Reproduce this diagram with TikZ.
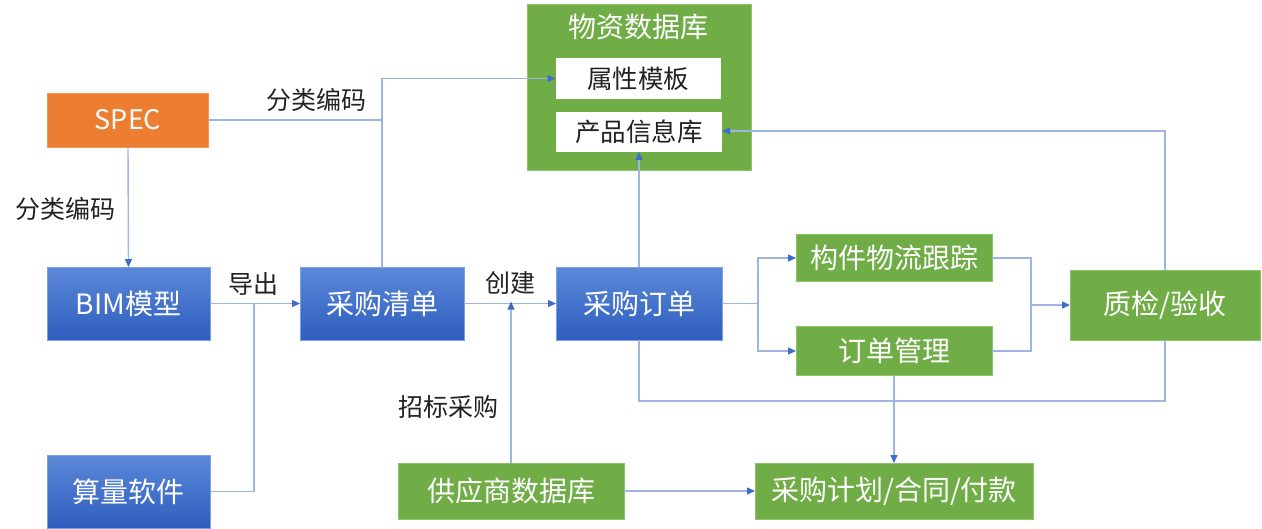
\documentclass[tikz,border=0pt]{standalone}
\usepackage{fontspec}
\setmainfont{Noto Sans CJK SC}
\usetikzlibrary{arrows.meta}
\definecolor{bluetop}{HTML}{5B88D8}
\definecolor{bluebot}{HTML}{2E5EBF}
\definecolor{gfill}{HTML}{70AD47}
\definecolor{gline}{HTML}{8CC46A}
\definecolor{ofill}{HTML}{ED7D31}
\definecolor{lineblue}{HTML}{9DB5E0}
\definecolor{tipblue}{HTML}{3E6CCB}
\definecolor{txt}{HTML}{222222}
\tikzset{
  base/.style={inner sep=0pt, outer sep=0pt, align=center, font=\fontsize{28}{30}\selectfont},
  bluebox/.style={base, top color=bluetop, bottom color=bluebot, draw=bluetop!80!white, line width=0.8pt, text=white},
  greenbox/.style={base, fill=gfill, draw=gline, line width=0.8pt, text=white},
  orangebox/.style={base, fill=ofill, draw=ofill!80!white, line width=0.8pt, text=white},
  whitebox/.style={base, fill=white, text=txt, font=\fontsize{25.5}{28}\selectfont},
  lbl/.style={inner sep=0pt, text=txt, font=\fontsize{25}{28}\selectfont},
  conn/.style={draw=lineblue, line width=1.4pt},
  arr/.style={conn, -{Triangle[length=8pt,width=7pt,color=tipblue]}},
}
\begin{document}
\begin{tikzpicture}[x=1pt,y=-1pt]
\useasboundingbox (0,0) rectangle (1262,528);
% nodes
\node[orangebox, minimum width=161pt, minimum height=54pt, font=\fontsize{27}{30}\selectfont] (spec) at (128,120) {SPEC};
\node[bluebox, minimum width=163pt, minimum height=73pt] (bim) at (128.5,303.5) {BIM模型};
\node[bluebox, minimum width=163pt, minimum height=73pt] (suan) at (128.5,491.5) {算量软件};
\node[bluebox, minimum width=164pt, minimum height=73pt] (qd) at (382,303.5) {采购清单};
\node[bluebox, minimum width=166pt, minimum height=73pt] (dd) at (639,303.5) {采购订单};
\node[greenbox, minimum width=224pt, minimum height=166pt] (wz) at (639,87) {};
\node[base, text=white] (wzt) at (638,27) {物资数据库};
\node[whitebox, minimum width=165pt, minimum height=41pt] (sx) at (638,78.5) {属性模板};
\node[whitebox, minimum width=166pt, minimum height=40pt] (cp) at (639,132) {产品信息库};
\node[greenbox, minimum width=196pt, minimum height=47pt] (gj) at (894,258) {构件物流跟踪};
\node[greenbox, minimum width=196pt, minimum height=49pt] (gl) at (894,351) {订单管理};
\node[greenbox, minimum width=190pt, minimum height=70pt] (zj) at (1165,305) {质检/验收};
\node[greenbox, minimum width=226pt, minimum height=56pt] (gys) at (511,491) {供应商数据库};
\node[greenbox, minimum width=278pt, minimum height=56pt] (jh) at (894,491) {采购计划/合同/付款};
% junctions
\coordinate (j1) at (254,303.5);
\coordinate (j2) at (1031,305);
\coordinate (j3) at (758,303.5);
% connectors
\draw[arr] (spec.south) -- (bim.north);
\draw[conn] (spec.east) -- (qd.north |- spec.east);
\draw[arr] (qd.north) |- (sx.west);
\draw[arr] (bim.east) -- (qd.west);
\draw[conn] (suan.east) -| (j1);
\draw[arr] (qd.east) -- (dd.west);
\draw[arr] (gys.north) -- ([yshift=2pt]gys.north |- qd.east);
\draw[arr] (dd.north) -- (cp.south);
\draw[conn] (dd.east) -- (j3);
\draw[arr] (j3) |- (gj.west);
\draw[arr] (j3) |- (gl.west);
\draw[conn] (gj.east) -| (j2);
\draw[conn] (gl.east) -| (j2);
\draw[arr] (j2) -- (zj.west);
\draw[arr] (zj.north) |- ([yshift=1pt]cp.east);
\draw[conn] (dd.south) -- ++(0,61) -| (zj.south);
\draw[arr] (gl.south) -- (jh.north);
\draw[arr] (gys.east) -- (jh.west);
% labels
\node[lbl] (l1) at (316,100) {分类编码};
\node[lbl] (l2) at (66,209) {分类编码};
\node[lbl] (l3) at (253,284) {导出};
\node[lbl] (l4) at (510,283) {创建};
\node[lbl] (l5) at (448,407) {招标采购};
\end{tikzpicture}
\end{document}
